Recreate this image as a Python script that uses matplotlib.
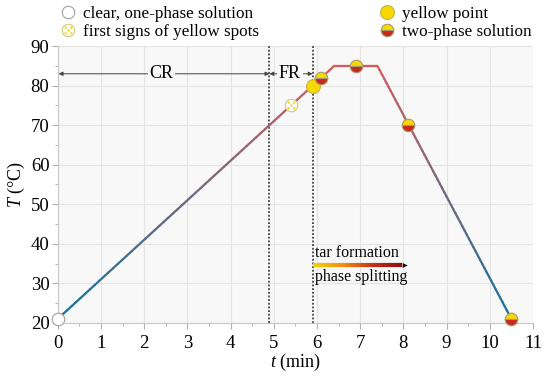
import numpy as np
import matplotlib
matplotlib.use("Agg")
import matplotlib.pyplot as plt
from matplotlib.collections import LineCollection
from matplotlib.colors import LinearSegmentedColormap
from matplotlib.legend_handler import HandlerTuple
from matplotlib.path import Path

# ------------------------------
# Data
# ------------------------------

# temperature programme (min, degC)
t_profile = [0, 6.4, 7.4, 10.5]
T_profile = [21, 85, 85, 21]

# observations along the programme
t_clear, T_clear = [0], [21]
t_spots, T_spots = [5.4], [75]
t_yellow, T_yellow = [5.9], [80]
t_two, T_two = [6.1, 6.9, 8.1, 10.5], [82, 85, 70, 21]

# region limits (CR / FR)
t_cr_end = 4.9
t_fr_end = 5.9
T_region_arrow = 83

# tar formation arrow
t_tar = [5.9, 8.1]
T_tar = 34.5

x_ticks = list(range(0, 12))
y_ticks = list(range(20, 91, 10))

# ------------------------------
# Style
# ------------------------------

plt.rcParams['font.family'] = ['Liberation Serif', 'DejaVu Serif']
plt.rcParams['mathtext.fontset'] = 'custom'
plt.rcParams['mathtext.rm'] = 'Liberation Serif'
plt.rcParams['mathtext.it'] = 'Liberation Serif:italic'
plt.rcParams['font.size'] = 12.5

yellow = '#f7d800'
red = '#c62a1e'
edge = '#a89a70'

fig = plt.figure(figsize=(5.5, 3.78), dpi=100)
ax = fig.add_axes([0.105, 0.146, 0.864, 0.732])
ax.set_facecolor('#f8f8f8')

ax.set_xlim(0, 11)
ax.set_ylim(20, 90)
ax.set_xticks(x_ticks)
ax.set_yticks(y_ticks)
ax.set_xticks(np.arange(0.5, 11, 1), minor=True)
ax.set_yticks(np.arange(25, 90, 10), minor=True)
ax.grid(True, which='major', color='#e4e4e4', lw=0.8)
ax.set_axisbelow(True)
for s in ['top', 'right']:
    ax.spines[s].set_visible(False)
for s in ['left', 'bottom']:
    ax.spines[s].set_color('#c8c8c8')
ax.tick_params(which='both', color='#b0b0b0', direction='out', labelsize=13.5)
ax.tick_params(which='major', length=4)
ax.tick_params(axis='x', which='major', pad=5)
ax.tick_params(axis='y', which='major', pad=2)
ax.tick_params(which='minor', length=2.5)

ax.set_xlabel(r'$t$ (min)', labelpad=0, fontsize=13)
ax.set_ylabel(r'$T$ (°C)', labelpad=3, fontsize=13)

# ------------------------------
# Temperature line, coloured by temperature
# ------------------------------

cmap = LinearSegmentedColormap.from_list('tcol', ['#13739e', '#d65c5c'])
segs, cols = [], []
for i in range(len(t_profile) - 1):
    n = 60
    xs = np.linspace(t_profile[i], t_profile[i + 1], n + 1)
    ys = np.linspace(T_profile[i], T_profile[i + 1], n + 1)
    for j in range(n):
        segs.append([(xs[j], ys[j]), (xs[j + 1], ys[j + 1])])
        cols.append(cmap(((ys[j] + ys[j + 1]) / 2 - 21) / 64))
lc = LineCollection(segs, colors=cols, linewidths=1.6, capstyle='round', zorder=3)
ax.add_collection(lc)

# region borders
for tx in [t_cr_end, t_fr_end]:
    ax.axvline(tx, color='#222222', ls=(0, (1.2, 1.2)), lw=1.1, zorder=2)

# CR / FR arrows
aprops = dict(arrowstyle='<|-|>', color='#444444', lw=0.7, mutation_scale=6,
              shrinkA=0, shrinkB=0)
ax.annotate('', xy=(0.02, T_region_arrow), xytext=(t_cr_end, T_region_arrow),
            arrowprops=aprops, zorder=4)
ax.annotate('', xy=(t_cr_end, T_region_arrow), xytext=(t_fr_end, T_region_arrow),
            arrowprops=aprops, zorder=4)
bb = dict(boxstyle='square,pad=0.1', fc='#f8f8f8', ec='none')
ax.text(2.4, T_region_arrow, 'CR', ha='center', va='center', bbox=bb, zorder=5,
        fontsize=13)
ax.text(5.37, T_region_arrow, 'FR', ha='center', va='center', bbox=bb, zorder=5,
        fontsize=13)

# tar formation arrow with yellow -> red gradient
acmap = LinearSegmentedColormap.from_list('tar', ['#f5d000', '#f09010', '#c83018', '#8a1010'])
n = 80
xs = np.linspace(t_tar[0], t_tar[1] - 0.12, n + 1)
tsegs = [[(xs[j], T_tar), (xs[j + 1], T_tar)] for j in range(n)]
tcols = [acmap(j / (n - 1)) for j in range(n)]
ax.add_collection(LineCollection(tsegs, colors=tcols, linewidths=3, zorder=4))
ax.annotate('', xy=(t_tar[1], T_tar), xytext=(t_tar[1] - 0.15, T_tar),
            arrowprops=dict(arrowstyle='-|>', color='#1a0a0a', lw=0, mutation_scale=9,
                            shrinkA=0, shrinkB=0), zorder=5)
ax.text(5.95, T_tar + 1.2, 'tar formation', ha='left', va='bottom', fontsize=11.5, zorder=5)
ax.text(5.95, T_tar - 1.0, 'phase splitting', ha='left', va='top', fontsize=11.5, zorder=5)

# ------------------------------
# Observation markers
# ------------------------------

# dotted pattern for "first signs of yellow spots"
dot_centres = [(0, 0), (0.45, 0.45), (-0.45, 0.45), (0.45, -0.45), (-0.45, -0.45)]
dots = Path.make_compound_path(*[Path.circle(c, 0.2) for c in dot_centres])

ms = 9
h_clear, = ax.plot(t_clear, T_clear, 'o', ms=ms, mfc='white', mec='#a0a0a0', mew=0.8,
                   zorder=6, clip_on=False)
h_sp, = ax.plot(t_spots, T_spots, 'o', ms=ms, mfc='white', mec='#d8c870', mew=0.8, zorder=6)
h_sp2, = ax.plot(t_spots, T_spots, ls='none', marker=dots, ms=ms * 0.65, mfc='#f2dc20',
                 mec='none', zorder=7)
h_yel, = ax.plot(t_yellow, T_yellow, 'o', ms=ms + 1, mfc=yellow, mec='#c8b440', mew=0.8,
                 zorder=6)
h_two, = ax.plot(t_two, T_two, 'o', ms=ms, fillstyle='top', mfc=yellow, mfcalt=red,
                 mec=edge, mew=0.8, zorder=6, clip_on=False)

# legends above the plot
leg_kw = dict(frameon=False, handlelength=0.9, handletextpad=0.4, labelspacing=0.15,
              fontsize=12.3, borderaxespad=0, borderpad=0)
leg1 = fig.legend([h_clear, (h_sp, h_sp2)], ['clear, one-phase solution',
                                             'first signs of yellow spots'],
                  loc='upper left', bbox_to_anchor=(0.11, 0.985),
                  handler_map={tuple: HandlerTuple(ndivide=1)}, **leg_kw)
leg2 = fig.legend([h_yel, h_two], ['yellow point', 'two-phase solution'],
                  loc='upper left', bbox_to_anchor=(0.69, 0.985), **leg_kw)

fig.savefig('out.png', dpi=100)
